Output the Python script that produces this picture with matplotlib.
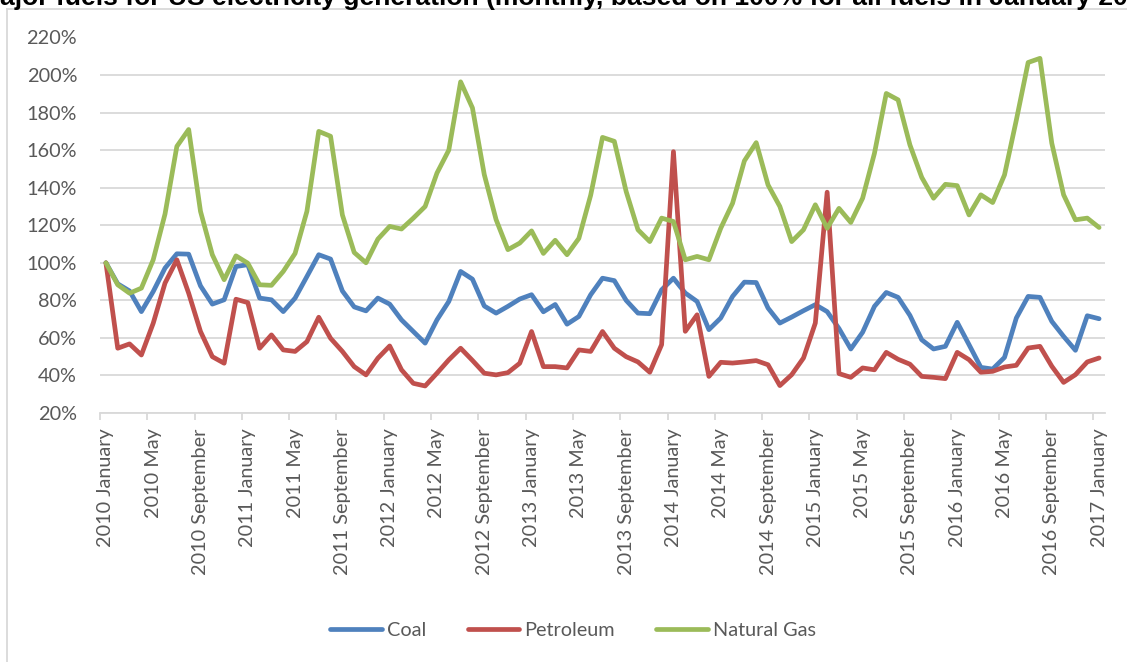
import numpy as np
import matplotlib
matplotlib.use("Agg")
import matplotlib.pyplot as plt
from matplotlib.lines import Line2D

# ---- data -------------------------------------------------------------
month_names = ["January", "February", "March", "April", "May", "June", "July",
               "August", "September", "October", "November", "December"]
periods = [f"{2010 + k // 12} {month_names[k % 12]}" for k in range(85)]

coal = [100, 88.8, 85, 74, 84.7, 97.2, 104.8, 104.6, 87.7, 78, 80.3, 98,
        99, 81.2, 80.3, 74, 81.2, 92.7, 104.3, 102, 85, 76.5, 74.4, 81.2,
        78, 69.6, 63.4, 57.2, 69.6, 79.4, 95.4, 91.3, 77, 73.2, 76.8, 80.7,
        83, 73.9, 77.8, 67.3, 71.4, 83, 91.8, 90.5, 80, 73.2, 72.9, 85.6,
        91.8, 83.9, 79.4, 64.4, 70.6, 82.1, 89.7, 89.5, 75.9, 67.9, 71.1, 74.5,
        77.7, 74, 65, 54.1, 63, 76.8, 84.2, 81.6, 72, 59, 54.1, 55.5,
        68.3, 56.4, 44.3, 43.4, 49.6, 70.6, 82.1, 81.6, 68.8, 60.8, 53.4, 71.8,
        70.2]

petroleum = [100, 54.5, 56.8, 50.9, 67.8, 89.2, 101.6, 83.8, 63.4, 50, 46.5, 80.6,
             78.8, 54.5, 61.6, 53.6, 52.8, 58, 71, 59.8, 52.8, 44.7, 40.3, 49.2,
             55.7, 43, 35.8, 34.4, 41.2, 48.3, 54.5, 48, 41.2, 40.3, 41.5, 46.5,
             63.4, 44.7, 44.7, 44, 53.6, 52.8, 63.4, 54.5, 50, 47.2, 41.7, 56.4,
             159.2, 63.5, 72.3, 39.5, 47, 46.6, 47.2, 47.9, 45.7, 34.6, 40.4, 49.3,
             67.9, 137.6, 41, 39, 44, 43, 52.3, 48.6, 46, 39.5, 39, 38.3,
             52.3, 48.4, 41.7, 42.2, 44.5, 45.4, 54.6, 55.5, 44.9, 36.3, 40.4, 47.2,
             49.3]

natural_gas = [100, 88.3, 83.8, 86.5, 101.6, 126, 162, 171, 127.4, 104.3, 91, 103.7,
               99.8, 88.3, 88, 95.4, 105, 127.4, 170, 167.4, 125.5, 105.5, 100, 112.6,
               119.4, 118, 123.8, 130, 147.8, 160, 196.4, 182.5, 147, 123, 107, 110.5,
               117, 105, 112, 104.3, 113, 136, 166.8, 164.7, 138, 117.6, 111.3, 123.8,
               122, 101.6, 103.4, 101.6, 118.4, 131.7, 154.3, 164, 141.5, 130, 111.3, 117.6,
               130.9, 118.4, 129, 121.5, 134.4, 158.3, 190.2, 186.8, 162.8, 145.5, 134.4, 141.8,
               141.1, 125.5, 136.2, 132.1, 146.8, 176, 206.7, 208.9, 163.7, 136.2, 122.9, 123.8,
               118.8]

series_names = ["Coal", "Petroleum", "Natural Gas"]
series_colors = ["#4F81BD", "#C0504D", "#9BBB59"]
y_ticks = list(range(20, 221, 20))
title = ("Major fuels for US electricity generation "
         "(monthly, based on 100% for all fuels in January 2010)")

# ---- figure -----------------------------------------------------------
W, H = 1127, 662
fig = plt.figure(figsize=(W / 100, H / 100), dpi=100)
fig.patch.set_facecolor("white")

label_font = "Lato"
label_size = 14.3
text_grey = "#595959"
grid_grey = "#D9D9D9"
line_w = 3.4

ax = fig.add_axes([100 / W, 1 - 413 / H, 1005 / W, 375.5 / H])
x = np.arange(len(periods))
for name, vals, col in zip(series_names, [coal, petroleum, natural_gas], series_colors):
    ax.plot(x, vals, color=col, lw=line_w, label=name,
            solid_joinstyle="round", solid_capstyle="round")

ax.set_xlim(-0.5, len(periods) - 0.5)
ax.set_ylim(y_ticks[0], y_ticks[-1])
ax.set_yticks(y_ticks)
ax.set_yticklabels([f"{v}%" for v in y_ticks], family=label_font,
                   fontsize=label_size, color=text_grey)
ax.grid(axis="y", color=grid_grey, lw=1.3)
ax.set_axisbelow(True)
for side in ["left", "right", "top"]:
    ax.spines[side].set_visible(False)
ax.spines["bottom"].set_color(grid_grey)
ax.spines["bottom"].set_linewidth(1.3)
ax.tick_params(axis="y", length=0, pad=16.5)

# category labels every fourth month, tick marks between categories
ax.set_xticks(x[::4])
ax.set_xticklabels(periods[::4], rotation=90, family=label_font,
                   fontsize=label_size, color=text_grey, va="top")
ax.set_xticks(np.arange(-0.5, len(periods), 4), minor=True)
ax.tick_params(axis="x", which="major", length=0, pad=11)
ax.tick_params(axis="x", which="minor", length=5, color=grid_grey, width=1.3)

# legend
handles = [Line2D([0], [0], color=c, lw=line_w, solid_capstyle="round") for c in series_colors]
fig.legend(handles, series_names, loc="center", bbox_to_anchor=(573 / W, 1 - 630 / H),
           ncol=3, frameon=False, handlelength=2.6, handletextpad=0.25,
           columnspacing=2.1, prop={"family": label_font, "size": label_size},
           labelcolor=text_grey)

# chart-area border (left and top edges)
fig.add_artist(Line2D([7 / W, 7 / W], [0, 1 - 9.3 / H], transform=fig.transFigure,
                      color=grid_grey, lw=1.3))
fig.add_artist(Line2D([7 / W, 1], [1 - 9.3 / H, 1 - 9.3 / H], transform=fig.transFigure,
                      color=grid_grey, lw=1.3))

# title, wider than the canvas
renderer = fig.canvas.get_renderer()
def text_width(s, size):
    t = fig.text(0, 0, s, fontsize=size, fontweight="bold", family="Liberation Sans")
    w = t.get_window_extent(renderer).width
    t.remove()
    return w

visible = title[1:-3]
size = 10 * W / text_width(visible, 10)
lead = text_width(title[0], size)
fig.text(-lead / W, 1 - 5 / H, title, fontsize=size, fontweight="bold",
         family="Liberation Sans", ha="left", va="baseline", color="black")

fig.savefig("out.png", dpi=100, facecolor="white")
